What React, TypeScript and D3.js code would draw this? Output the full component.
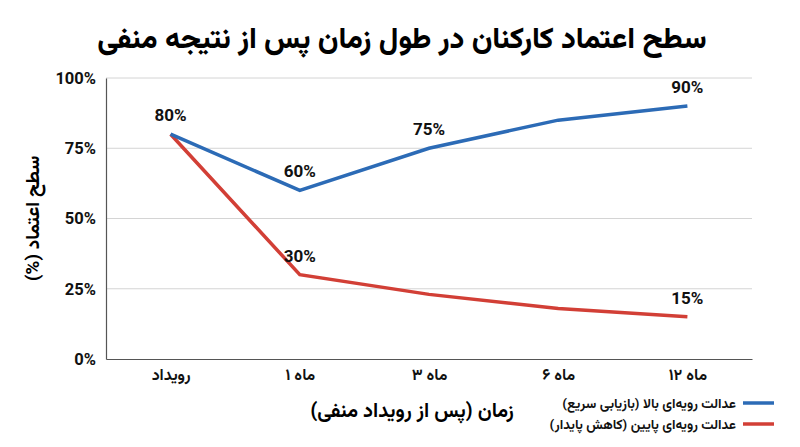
import React, { useEffect, useRef } from 'react';
import * as d3 from 'd3';

const categories = ['رویداد', 'ماه ۱', 'ماه ۳', 'ماه ۶', 'ماه ۱۲'];
const highJustice = [80, 60, 75, 85, 90];
const lowJustice = [80, 30, 23, 18, 15];
const yTicks = [0, 25, 50, 75, 100];
// which points carry a value label
const blueLabels = [0, 1, 2, 4];
const redLabels = [1, 4];
const seriesNames = ['عدالت رویه‌ای بالا (بازیابی سریع)', 'عدالت رویه‌ای پایین (کاهش پایدار)'];

const FONT = "Vazirmatn, 'Noto Sans Arabic', 'DejaVu Sans', sans-serif";
const NUM_FONT = "Roboto, 'Liberation Sans', Arial, sans-serif";

export default function App() {
  const ref = useRef<SVGSVGElement | null>(null);

  useEffect(() => {
    if (!ref.current) return;
    const svg = d3.select(ref.current);
    svg.selectAll('*').remove();

    const width = 800;
    const height = 447;
    const margin = { top: 78, right: 48, bottom: 88, left: 106 };
    const innerWidth = width - margin.left - margin.right;
    const innerHeight = height - margin.top - margin.bottom;

    svg.append('rect').attr('width', width).attr('height', height).attr('fill', '#fff');

    svg.append('text')
      .attr('x', 402)
      .attr('y', 48)
      .attr('text-anchor', 'middle')
      .attr('direction', 'rtl')
      .style('font-family', FONT)
      .style('font-size', '29.5px')
      .style('font-weight', 800)
      .text('سطح اعتماد کارکنان در طول زمان پس از نتیجه منفی');

    const g = svg.append('g').attr('transform', `translate(${margin.left},${margin.top})`);

    const x = d3.scalePoint<string>().domain(categories).range([0, innerWidth]).padding(0.5);
    const y = d3.scaleLinear().domain([0, 100]).range([innerHeight, 0]);

    // grid
    g.selectAll('.grid')
      .data(yTicks.filter(t => t > 0))
      .join('line')
      .attr('x1', 0)
      .attr('x2', innerWidth)
      .attr('y1', d => y(d))
      .attr('y2', d => y(d))
      .attr('stroke', '#d4d4d4')
      .attr('stroke-width', 1);

    // axes
    const yAxis = g.append('g').call(d3.axisLeft(y).tickValues(yTicks).tickSize(0).tickPadding(10).tickFormat(d => `${d}%`));
    yAxis.select('.domain').attr('stroke', '#555').attr('stroke-width', 1.2);
    yAxis.selectAll('text')
      .style('font-family', NUM_FONT)
      .style('font-size', '16.5px')
      .style('font-weight', 700)
      .attr('fill', '#111');

    const xAxis = g.append('g')
      .attr('transform', `translate(0,${innerHeight})`)
      .call(d3.axisBottom(x).tickSize(0).tickPadding(10));
    xAxis.select('.domain').attr('stroke', '#555').attr('stroke-width', 1.2);
    xAxis.selectAll('text')
      .attr('direction', 'rtl')
      .style('font-family', FONT)
      .style('font-size', '16px')
      .style('font-weight', 700)
      .attr('fill', '#111');

    const line = d3.line<number>()
      .x((_, i) => x(categories[i])!)
      .y(d => y(d));

    g.append('path').datum(lowJustice).attr('d', line).attr('fill', 'none')
      .attr('stroke', '#d23f36').attr('stroke-width', 3.5);
    g.append('path').datum(highJustice).attr('d', line).attr('fill', 'none')
      .attr('stroke', '#2c6bb6').attr('stroke-width', 3.5);

    const addLabels = (vals: number[], idx: number[]) => {
      g.selectAll(null)
        .data(idx)
        .join('text')
        .attr('x', i => x(categories[i])!)
        .attr('y', i => y(vals[i]) - 13)
        .attr('text-anchor', 'middle')
        .style('font-family', NUM_FONT)
        .style('font-size', '17px')
        .style('font-weight', 700)
        .attr('fill', '#111')
        .text(i => `${vals[i]}%`);
    };
    addLabels(highJustice, blueLabels);
    addLabels(lowJustice, redLabels);

    // axis titles
    svg.append('text')
      .attr('transform', `translate(39,${margin.top + innerHeight / 2}) rotate(-90)`)
      .attr('text-anchor', 'middle')
      .attr('direction', 'rtl')
      .style('font-family', FONT)
      .style('font-size', '19px')
      .style('font-weight', 700)
      .text('سطح اعتماد (%)');

    svg.append('text')
      .attr('x', 412)
      .attr('y', 417)
      .attr('text-anchor', 'middle')
      .attr('direction', 'rtl')
      .style('font-family', FONT)
      .style('font-size', '20px')
      .style('font-weight', 700)
      .text('زمان (پس از رویداد منفی)');

    // legend
    const legend = svg.append('g').attr('transform', 'translate(743,403)');
    const colors = ['#2c6bb6', '#d23f36'];
    seriesNames.forEach((name, i) => {
      const row = legend.append('g').attr('transform', `translate(0,${i * 21})`);
      row.append('line').attr('x1', 0).attr('x2', 31).attr('y1', 0).attr('y2', 0)
        .attr('stroke', colors[i]).attr('stroke-width', 3.5);
      row.append('text')
        .attr('x', -7)
        .attr('y', 5)
        .attr('text-anchor', 'start')
        .attr('direction', 'rtl')
        .style('font-family', FONT)
        .style('font-size', '13.5px')
        .style('font-weight', 700)
        .attr('fill', '#111')
        .text(name);
    });
  }, []);

  return <svg ref={ref} width={800} height={447} style={{ display: 'block', margin: '-8px' }} />;
}
